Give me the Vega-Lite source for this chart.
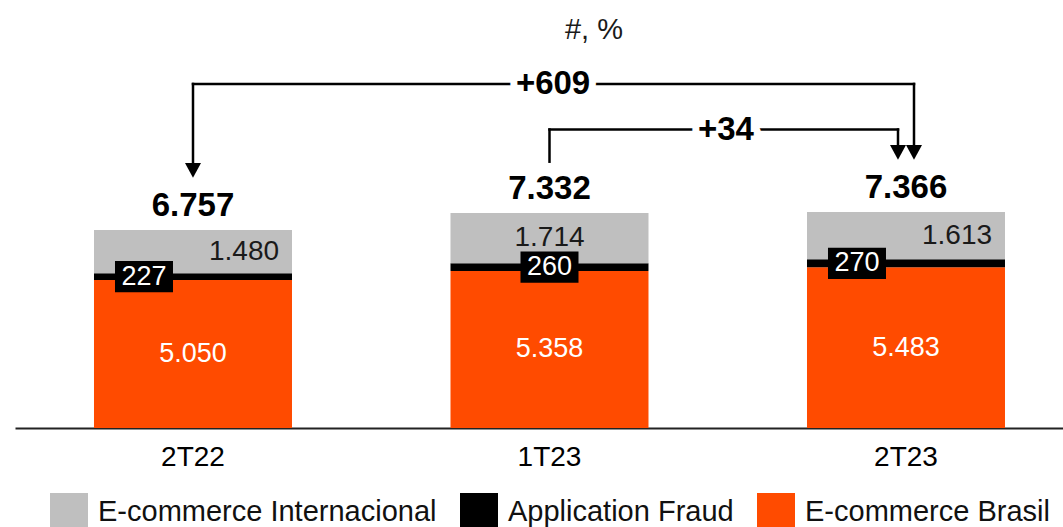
{
  "$schema": "https://vega.github.io/schema/vega-lite/v6.json",
  "width": 1048,
  "height": 378,
  "autosize": {"type": "none"},
  "padding": {"left": 15, "top": 50, "right": 0, "bottom": 99},
  "background": "white",
  "title": {"text": "#, %", "anchor": "middle", "frame": "group", "dx": 55, "offset": 5, "font": "Liberation Sans", "fontSize": 29, "fontWeight": "normal", "color": "#1a1a1a"},
  "config": {
    "view": {"stroke": null},
    "locale": {"number": {"decimal": ",", "thousands": ".", "grouping": [3], "currency": ["R$", ""]}},
    "text": {"font": "Liberation Sans"}
  },
  "datasets": {
    "bars": [
      {"period": "2T22", "series": "E-commerce Brasil", "value": 5050, "order": 1},
      {"period": "2T22", "series": "Application Fraud", "value": 227, "order": 2},
      {"period": "2T22", "series": "E-commerce Internacional", "value": 1480, "order": 3},
      {"period": "1T23", "series": "E-commerce Brasil", "value": 5358, "order": 1},
      {"period": "1T23", "series": "Application Fraud", "value": 260, "order": 2},
      {"period": "1T23", "series": "E-commerce Internacional", "value": 1714, "order": 3},
      {"period": "2T23", "series": "E-commerce Brasil", "value": 5483, "order": 1},
      {"period": "2T23", "series": "Application Fraud", "value": 270, "order": 2},
      {"period": "2T23", "series": "E-commerce Internacional", "value": 1613, "order": 3}
    ],
    "links": [
      {"label": "+609", "from": 0, "to": 2, "mid": 1.01, "level": 11735, "start": 9040, "end": 9654},
      {"label": "+34", "from": 1, "to": 2, "mid": 1.495, "level": 10180, "start": 9084, "end": 9654}
    ]
  },
  "layer": [
    {
      "data": {"name": "bars"},
      "layer": [
        {
          "mark": {"type": "bar"},
          "encoding": {
            "x": {
              "field": "period", "type": "nominal", "sort": ["2T22", "1T23", "2T23"],
              "scale": {"paddingInner": 0.4446, "paddingOuter": 0.19215, "align": 0.5766, "round": false},
              "axis": {"title": null, "labelAngle": 0, "labelFont": "Liberation Sans", "labelFontSize": 28, "labelColor": "#000000", "labelPadding": 15, "ticks": false, "tickSize": 0, "domainColor": "#222222", "domainWidth": 2, "grid": false, "labelBaseline": "top"}
            },
            "y": {"field": "value", "type": "quantitative", "stack": "zero", "scale": {"domain": [0, 12894], "nice": false, "zero": true}, "axis": null},
            "color": {
              "field": "series", "type": "nominal",
              "scale": {"domain": ["E-commerce Internacional", "Application Fraud", "E-commerce Brasil"], "range": ["#BFBFBF", "#000000", "#FF4B00"]},
              "legend": {"orient": "none", "legendX": 35, "legendY": 443, "direction": "horizontal", "columns": 3, "title": null, "symbolType": "square", "symbolSize": 1444, "symbolStrokeWidth": 0, "symbolOpacity": 1, "labelFont": "Liberation Sans", "labelFontSize": 29, "labelColor": "#111111", "labelOffset": 10, "columnPadding": 23, "padding": 0, "labelLimit": 600}
            },
            "order": {"field": "order", "type": "quantitative"}
          }
        },
        {
          "mark": {"type": "text", "fontSize": 28, "color": "#1a1a1a", "baseline": "middle", "align": "center", "xOffset": 51},
          "encoding": {
            "x": {"field": "period", "type": "nominal", "sort": ["2T22", "1T23", "2T23"]},
            "y": {"field": "value", "type": "quantitative", "stack": "zero", "bandPosition": 0.5, "scale": {"domain": [0, 12894], "nice": false}, "axis": null},
            "detail": {"field": "series", "type": "nominal"},
            "order": {"field": "order", "type": "quantitative"},
            "text": {"condition": {"test": "datum.series === 'E-commerce Internacional' && datum.period !== '1T23'", "field": "value", "type": "quantitative", "format": ",d"}, "value": ""}
          }
        },
        {
          "mark": {"type": "text", "fontSize": 28, "color": "#1a1a1a", "baseline": "middle", "align": "center"},
          "encoding": {
            "x": {"field": "period", "type": "nominal", "sort": ["2T22", "1T23", "2T23"]},
            "y": {"field": "value", "type": "quantitative", "stack": "zero", "bandPosition": 0.5, "scale": {"domain": [0, 12894], "nice": false}, "axis": null},
            "detail": {"field": "series", "type": "nominal"},
            "order": {"field": "order", "type": "quantitative"},
            "text": {"condition": {"test": "datum.series === 'E-commerce Internacional' && datum.period === '1T23'", "field": "value", "type": "quantitative", "format": ",d"}, "value": ""}
          }
        },
        {
          "mark": {"type": "point", "shape": "M-1,-0.54L1,-0.54L1,0.54L-1,0.54Z", "size": 3364, "filled": true, "color": "#000000", "strokeWidth": 0, "xOffset": -49},
          "encoding": {
            "x": {"field": "period", "type": "nominal", "sort": ["2T22", "1T23", "2T23"]},
            "y": {"field": "value", "type": "quantitative", "stack": "zero", "bandPosition": 0.5, "scale": {"domain": [0, 12894], "nice": false}, "axis": null},
            "detail": {"field": "series", "type": "nominal"},
            "order": {"field": "order", "type": "quantitative"},
            "opacity": {"condition": {"test": "datum.series === 'Application Fraud' && datum.period !== '1T23'", "value": 1}, "value": 0}
          }
        },
        {
          "mark": {"type": "point", "shape": "M-1,-0.54L1,-0.54L1,0.54L-1,0.54Z", "size": 3364, "filled": true, "color": "#000000", "strokeWidth": 0},
          "encoding": {
            "x": {"field": "period", "type": "nominal", "sort": ["2T22", "1T23", "2T23"]},
            "y": {"field": "value", "type": "quantitative", "stack": "zero", "bandPosition": 0.5, "scale": {"domain": [0, 12894], "nice": false}, "axis": null},
            "detail": {"field": "series", "type": "nominal"},
            "order": {"field": "order", "type": "quantitative"},
            "opacity": {"condition": {"test": "datum.series === 'Application Fraud' && datum.period === '1T23'", "value": 1}, "value": 0}
          }
        },
        {
          "mark": {"type": "text", "fontSize": 27, "color": "#ffffff", "baseline": "middle", "align": "center", "xOffset": -49},
          "encoding": {
            "x": {"field": "period", "type": "nominal", "sort": ["2T22", "1T23", "2T23"]},
            "y": {"field": "value", "type": "quantitative", "stack": "zero", "bandPosition": 0.5, "scale": {"domain": [0, 12894], "nice": false}, "axis": null},
            "detail": {"field": "series", "type": "nominal"},
            "order": {"field": "order", "type": "quantitative"},
            "text": {"condition": {"test": "datum.series === 'Application Fraud' && datum.period !== '1T23'", "field": "value", "type": "quantitative", "format": ",d"}, "value": ""}
          }
        },
        {
          "mark": {"type": "text", "fontSize": 27, "color": "#ffffff", "baseline": "middle", "align": "center"},
          "encoding": {
            "x": {"field": "period", "type": "nominal", "sort": ["2T22", "1T23", "2T23"]},
            "y": {"field": "value", "type": "quantitative", "stack": "zero", "bandPosition": 0.5, "scale": {"domain": [0, 12894], "nice": false}, "axis": null},
            "detail": {"field": "series", "type": "nominal"},
            "order": {"field": "order", "type": "quantitative"},
            "text": {"condition": {"test": "datum.series === 'E-commerce Brasil' || (datum.series === 'Application Fraud' && datum.period === '1T23')", "field": "value", "type": "quantitative", "format": ",d"}, "value": ""}
          }
        },
        {
          "transform": [
            {"aggregate": [{"op": "sum", "field": "value", "as": "total"}], "groupby": ["period"]}
          ],
          "mark": {"type": "text", "fontSize": 33, "fontWeight": "bold", "color": "#000000", "baseline": "alphabetic", "align": "center", "dy": -14},
          "encoding": {
            "x": {"field": "period", "type": "nominal", "sort": ["2T22", "1T23", "2T23"]},
            "y": {"field": "total", "type": "quantitative", "scale": {"domain": [0, 12894], "nice": false}, "axis": null},
            "text": {"field": "total", "type": "quantitative", "format": ",d"}
          }
        }
      ]
    },
    {
      "data": {"name": "links"},
      "layer": [
        {
          "transform": [{"filter": "datum.label === '+609'"}],
          "mark": {"type": "rule", "color": "#000000", "strokeWidth": 2.5, "strokeCap": "square", "x2Offset": 8},
          "encoding": {
            "x": {"field": "from", "type": "quantitative", "scale": {"domain": [-0.4993, 2.4404], "nice": false, "zero": false}, "axis": null},
            "x2": {"field": "to"},
            "y": {"field": "level", "type": "quantitative", "scale": {"domain": [0, 12894], "nice": false}, "axis": null}
          }
        },
        {
          "transform": [{"filter": "datum.label === '+34'"}],
          "mark": {"type": "rule", "color": "#000000", "strokeWidth": 2.5, "strokeCap": "square", "x2Offset": -8},
          "encoding": {
            "x": {"field": "from", "type": "quantitative", "scale": {"domain": [-0.4993, 2.4404], "nice": false, "zero": false}, "axis": null},
            "x2": {"field": "to"},
            "y": {"field": "level", "type": "quantitative", "scale": {"domain": [0, 12894], "nice": false}, "axis": null}
          }
        },
        {
          "mark": {"type": "rule", "color": "#000000", "strokeWidth": 2.5, "strokeCap": "square"},
          "encoding": {
            "x": {"field": "from", "type": "quantitative", "scale": {"domain": [-0.4993, 2.4404], "nice": false, "zero": false}, "axis": null},
            "y": {"field": "level", "type": "quantitative", "scale": {"domain": [0, 12894], "nice": false}, "axis": null},
            "y2": {"field": "start"}
          }
        },
        {
          "transform": [{"filter": "datum.label === '+609'"}],
          "mark": {"type": "rule", "color": "#000000", "strokeWidth": 2.5, "strokeCap": "square", "xOffset": 8},
          "encoding": {
            "x": {"field": "to", "type": "quantitative", "scale": {"domain": [-0.4993, 2.4404], "nice": false, "zero": false}, "axis": null},
            "y": {"field": "level", "type": "quantitative", "scale": {"domain": [0, 12894], "nice": false}, "axis": null},
            "y2": {"field": "end"}
          }
        },
        {
          "transform": [{"filter": "datum.label === '+34'"}],
          "mark": {"type": "rule", "color": "#000000", "strokeWidth": 2.5, "strokeCap": "square", "xOffset": -8},
          "encoding": {
            "x": {"field": "to", "type": "quantitative", "scale": {"domain": [-0.4993, 2.4404], "nice": false, "zero": false}, "axis": null},
            "y": {"field": "level", "type": "quantitative", "scale": {"domain": [0, 12894], "nice": false}, "axis": null},
            "y2": {"field": "end"}
          }
        },
        {
          "transform": [{"filter": "datum.label === '+609'"}],
          "mark": {"type": "point", "shape": "M-1,0L1,0L0,1.85Z", "size": 256, "filled": true, "color": "#000000", "opacity": 1, "strokeWidth": 0},
          "encoding": {
            "x": {"field": "from", "type": "quantitative", "scale": {"domain": [-0.4993, 2.4404], "nice": false, "zero": false}, "axis": null},
            "y": {"field": "start", "type": "quantitative", "scale": {"domain": [0, 12894], "nice": false}, "axis": null}
          }
        },
        {
          "transform": [{"filter": "datum.label === '+609'"}],
          "mark": {"type": "point", "shape": "M-1,0L1,0L0,1.85Z", "size": 256, "filled": true, "color": "#000000", "opacity": 1, "strokeWidth": 0, "xOffset": 8},
          "encoding": {
            "x": {"field": "to", "type": "quantitative", "scale": {"domain": [-0.4993, 2.4404], "nice": false, "zero": false}, "axis": null},
            "y": {"field": "end", "type": "quantitative", "scale": {"domain": [0, 12894], "nice": false}, "axis": null}
          }
        },
        {
          "transform": [{"filter": "datum.label === '+34'"}],
          "mark": {"type": "point", "shape": "M-1,0L1,0L0,1.85Z", "size": 256, "filled": true, "color": "#000000", "opacity": 1, "strokeWidth": 0, "xOffset": -8},
          "encoding": {
            "x": {"field": "to", "type": "quantitative", "scale": {"domain": [-0.4993, 2.4404], "nice": false, "zero": false}, "axis": null},
            "y": {"field": "end", "type": "quantitative", "scale": {"domain": [0, 12894], "nice": false}, "axis": null}
          }
        },
        {
          "mark": {"type": "text", "fontSize": 33, "fontWeight": "bold", "fill": "#ffffff", "stroke": "#ffffff", "strokeWidth": 14, "strokeJoin": "round", "baseline": "middle", "align": "center"},
          "encoding": {
            "x": {"field": "mid", "type": "quantitative", "scale": {"domain": [-0.4993, 2.4404], "nice": false, "zero": false}, "axis": null},
            "y": {"field": "level", "type": "quantitative", "scale": {"domain": [0, 12894], "nice": false}, "axis": null},
            "text": {"field": "label", "type": "nominal"}
          }
        },
        {
          "mark": {"type": "text", "fontSize": 33, "fontWeight": "bold", "color": "#000000", "baseline": "middle", "align": "center"},
          "encoding": {
            "x": {"field": "mid", "type": "quantitative", "scale": {"domain": [-0.4993, 2.4404], "nice": false, "zero": false}, "axis": null},
            "y": {"field": "level", "type": "quantitative", "scale": {"domain": [0, 12894], "nice": false}, "axis": null},
            "text": {"field": "label", "type": "nominal"}
          }
        }
      ]
    }
  ],
  "resolve": {"scale": {"x": "independent"}}
}
